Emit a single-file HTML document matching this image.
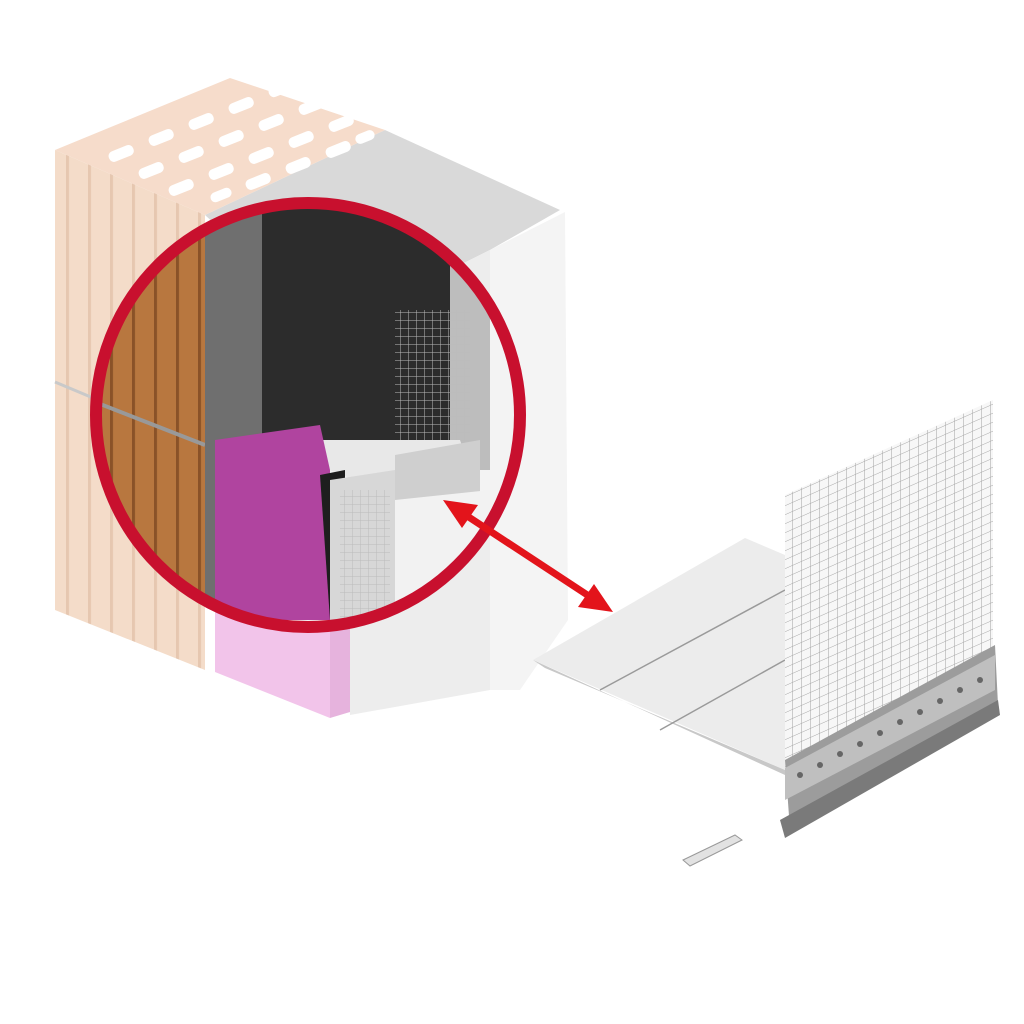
<!DOCTYPE html>
<html><head><meta charset="utf-8"><style>html,body{margin:0;padding:0;background:#fff}svg{display:block}</style></head>
<body>
<svg width="1024" height="1024" viewBox="0 0 1024 1024" xmlns="http://www.w3.org/2000/svg">
<defs>
<pattern id="grid" width="9" height="9" patternUnits="userSpaceOnUse" patternTransform="skewY(-24)">
<rect width="9" height="9" fill="none"/><path d="M0 0H9M0 0V9" stroke="#9a9a9a" stroke-width="1"/></pattern>
<pattern id="grid2" width="8" height="8" patternUnits="userSpaceOnUse">
<path d="M0 0H8M0 0V8" stroke="#bbb" stroke-width="1"/></pattern>
<pattern id="ribs" width="22" height="10" patternUnits="userSpaceOnUse" patternTransform="skewY(24)">
<rect width="22" height="10" fill="#f4dcc9"/><rect width="3" height="10" fill="#e6c7b0"/></pattern>
<pattern id="wood" width="22" height="10" patternUnits="userSpaceOnUse" patternTransform="skewY(24)">
<rect width="22" height="10" fill="#b8773f"/><rect width="3" height="10" fill="#8a5228"/></pattern>
<clipPath id="circ"><circle cx="308" cy="415" r="212"/></clipPath>
</defs>
<polygon points="205,215 385,130 560,210 490,250 330,330" fill="#d9d9d9"/>
<polygon points="490,250 565,212 568,620 520,690 490,690" fill="#f4f4f4"/>
<polygon points="330,330 490,250 490,690 350,715" fill="#ededed"/>
<polygon points="215,560 330,610 330,718 215,672" fill="#f2c4ea"/>
<polygon points="330,610 350,600 350,712 330,718" fill="#e6b3dd"/>
<polygon points="55,150 230,78 385,130 205,215" fill="#f6dccb"/>
<g fill="#fff" transform="translate(0,0)">
<g transform="matrix(1,-0.42,1,0.42,0,0)">
</g>
</g>
<g fill="#fff">
<rect x="108" y="148" width="26" height="11" rx="5" transform="rotate(-22 121 153)"/>
<rect x="148" y="132" width="26" height="11" rx="5" transform="rotate(-22 161 137)"/>
<rect x="188" y="116" width="26" height="11" rx="5" transform="rotate(-22 201 121)"/>
<rect x="228" y="100" width="26" height="11" rx="5" transform="rotate(-22 241 105)"/>
<rect x="268" y="84" width="22" height="11" rx="5" transform="rotate(-22 279 89)"/>
<rect x="138" y="165" width="26" height="11" rx="5" transform="rotate(-22 151 170)"/>
<rect x="178" y="149" width="26" height="11" rx="5" transform="rotate(-22 191 154)"/>
<rect x="218" y="133" width="26" height="11" rx="5" transform="rotate(-22 231 138)"/>
<rect x="258" y="117" width="26" height="11" rx="5" transform="rotate(-22 271 122)"/>
<rect x="298" y="101" width="26" height="11" rx="5" transform="rotate(-22 311 106)"/>
<rect x="168" y="182" width="26" height="11" rx="5" transform="rotate(-22 181 187)"/>
<rect x="208" y="166" width="26" height="11" rx="5" transform="rotate(-22 221 171)"/>
<rect x="248" y="150" width="26" height="11" rx="5" transform="rotate(-22 261 155)"/>
<rect x="288" y="134" width="26" height="11" rx="5" transform="rotate(-22 301 139)"/>
<rect x="328" y="118" width="26" height="11" rx="5" transform="rotate(-22 341 123)"/>
<rect x="210" y="190" width="22" height="10" rx="5" transform="rotate(-22 221 195)"/>
<rect x="245" y="176" width="26" height="11" rx="5" transform="rotate(-22 258 181)"/>
<rect x="285" y="160" width="26" height="11" rx="5" transform="rotate(-22 298 165)"/>
<rect x="325" y="144" width="26" height="11" rx="5" transform="rotate(-22 338 149)"/>
<rect x="355" y="132" width="20" height="10" rx="5" transform="rotate(-22 365 137)"/>
</g>
<polygon points="55,150 205,215 205,670 55,610" fill="url(#ribs)"/>
<line x1="55" y1="382" x2="205" y2="445" stroke="#c9c9c9" stroke-width="3"/>
<g clip-path="url(#circ)">
<rect x="90" y="190" width="440" height="450" fill="#f3f3f3"/>
<polygon points="90,170 205,215 205,660 90,620" fill="url(#wood)"/>
<line x1="90" y1="400" x2="205" y2="445" stroke="#999" stroke-width="4"/>
<polygon points="205,195 262,195 262,620 205,650" fill="#6f6f6f"/>
<polygon points="262,195 450,200 450,440 262,440" fill="#2c2c2c"/>
<polygon points="450,200 490,215 490,470 450,470" fill="#bdbdbd"/>
<rect x="395" y="310" width="75" height="160" fill="url(#grid2)"/>
<polygon points="270,440 460,440 470,470 380,490 330,470" fill="#e8e8e8"/>
<polygon points="395,455 480,440 480,495 395,505" fill="#cfcfcf"/>
<polygon points="215,440 320,425 330,470 330,620 215,620" fill="#b0449f"/>
<polygon points="320,475 345,470 345,620 330,620" fill="#1e1e1e"/>
<polygon points="330,480 395,470 395,620 330,620" fill="#d7d7d7"/>
<rect x="340" y="490" width="50" height="130" fill="url(#grid2)"/>
<polygon points="395,500 490,490 490,640 395,640" fill="#f2f2f2"/>
</g>
<circle cx="308" cy="415" r="212" fill="none" stroke="#c8102e" stroke-width="12"/>
<line x1="458" y1="510" x2="598" y2="602" stroke="#e3141b" stroke-width="7"/>
<polygon points="443,500 478,505 462,528" fill="#e3141b"/>
<polygon points="613,612 578,607 594,584" fill="#e3141b"/>
<polygon points="533,660 745,538 785,555 785,770" fill="#ececec"/>
<polygon points="533,660 545,668 785,770 785,775" fill="#c8c8c8"/>
<line x1="600" y1="690" x2="785" y2="590" stroke="#9a9a9a" stroke-width="1.5"/>
<line x1="660" y1="730" x2="785" y2="660" stroke="#9a9a9a" stroke-width="1.5"/>
<polygon points="785,495 993,400 993,690 785,770" fill="#f7f7f7"/>
<polygon points="785,495 993,400 993,690 785,770" fill="url(#grid)" opacity="0.9"/>
<polygon points="785,760 995,645 998,705 790,830" fill="#9c9c9c"/>
<polygon points="785,768 995,655 995,690 785,800" fill="#bfbfbf"/>
<g fill="#666">
<circle cx="800" cy="775" r="3"/><circle cx="820" cy="765" r="3"/><circle cx="840" cy="754" r="3"/><circle cx="860" cy="744" r="3"/><circle cx="880" cy="733" r="3"/><circle cx="900" cy="722" r="3"/><circle cx="920" cy="712" r="3"/><circle cx="940" cy="701" r="3"/><circle cx="960" cy="690" r="3"/><circle cx="980" cy="680" r="3"/>
</g>
<polygon points="780,820 998,700 1000,715 785,838" fill="#7a7a7a"/>
<polygon points="683,860 735,835 742,840 690,866" fill="#e2e2e2" stroke="#999" stroke-width="1"/>
</svg>
</body></html>
